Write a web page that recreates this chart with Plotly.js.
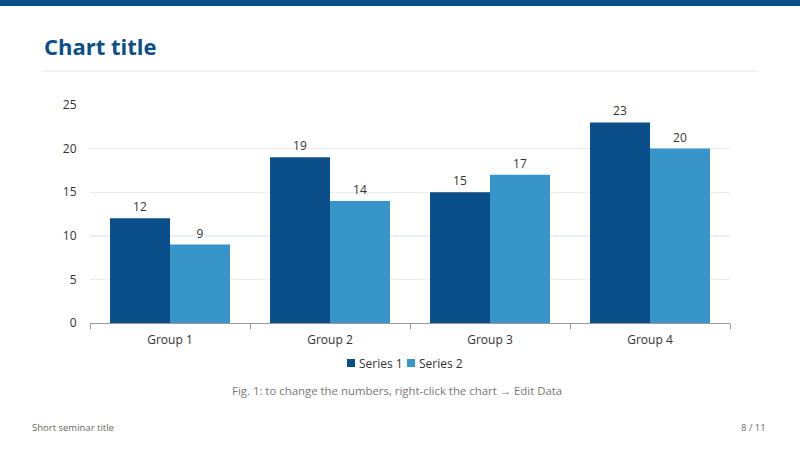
<!DOCTYPE html>
<html>
<head>
<meta charset="utf-8">
<script src="https://cdn.plot.ly/plotly-3.0.1.min.js"></script>
<style>
html,body{margin:0;padding:0;background:#fff;}
#chart{width:800px;height:450px;}
</style>
</head>
<body>
<div id="chart"></div>
<script>
const categories = ["Group 1", "Group 2", "Group 3", "Group 4"];
const series1 = [12, 19, 15, 23];
const series2 = [9, 14, 17, 20];
const seriesNames = ["Series 1", "Series 2"];
const chartTitle = "Chart title";
const caption = "Fig. 1: to change the numbers, right-click the chart \u2192 Edit Data";
const footerLeft = "Short seminar title";
const footerRight = "8 / 11";

const W = 800, H = 450;
const M = {l: 90, r: 70, t: 105, b: 127};
const plotH = H - M.t - M.b;
const plotW = W - M.l - M.r;
const py = p => (H - M.b - p) / plotH;   // pixel y -> paper y
const px = p => (p - M.l) / plotW;       // pixel x -> paper x

const dark = "#0b4f8a";
const light = "#3795c9";
const colors = [dark, light];
const font = "'Open Sans', 'Noto Sans', sans-serif";

const traces = [series1, series2].map((vals, i) => ({
  type: "bar", name: seriesNames[i], x: categories, y: vals,
  marker: {color: colors[i]}, text: vals.map(String), textposition: "outside",
  textfont: {size: 12, color: "#333"}, outsidetextfont: {size: 12, color: "#333"},
  cliponaxis: false, hoverinfo: "none", showlegend: false
}));

// manual legend (small square swatches, tight spacing like the reference)
const legendX = [347, 407];
const legendShapes = seriesNames.map((n, i) => ({
  type: "rect", xref: "paper", yref: "paper",
  x0: px(legendX[i]), x1: px(legendX[i] + 8), y0: py(359), y1: py(367),
  fillcolor: colors[i], line: {width: 0}
}));
const legendAnn = seriesNames.map((n, i) => ({
  text: n, xref: "paper", yref: "paper", x: px(legendX[i] + 10), y: py(363),
  xanchor: "left", yanchor: "middle", showarrow: false,
  font: {family: font, size: 12, color: "#333"}
}));

const layout = {
  width: W, height: H,
  margin: M,
  paper_bgcolor: "#fff", plot_bgcolor: "#fff",
  font: {family: font, size: 12, color: "#333"},
  barmode: "group", bargap: 0.25, bargroupgap: 0,
  showlegend: false,
  xaxis: {type: "category", showline: true, linecolor: "#9a9a9a", linewidth: 1,
          ticks: "outside", tickson: "boundaries", ticklen: 5, tickcolor: "#9a9a9a",
          ticklabelstandoff: 6,
          showgrid: false, tickfont: {size: 12, color: "#333"}},
  yaxis: {range: [0, 25], dtick: 5, showline: false, zeroline: false,
          showgrid: true, gridcolor: "#e8ebef", gridwidth: 1,
          ticks: "outside", ticklen: 10, tickcolor: "rgba(0,0,0,0)",
          tickfont: {size: 12, color: "#333"}},
  shapes: [
    {type: "rect", xref: "paper", yref: "paper", x0: px(0), x1: px(W), y0: py(0), y1: py(6),
     fillcolor: dark, line: {width: 0}, layer: "above"},
    {type: "line", xref: "paper", yref: "paper", x0: px(42), x1: px(758), y0: py(71), y1: py(71),
     line: {color: "#e3e3e3", width: 1}},
    {type: "line", xref: "paper", yref: "y", x0: 0, x1: 1, y0: 10, y1: 10,
     line: {color: "#d9e5f1", width: 1.5}, layer: "below"}
  ].concat(legendShapes),
  annotations: [
    {text: "<b>" + chartTitle + "</b>", xref: "paper", yref: "paper", x: px(42), y: py(46),
     xanchor: "left", yanchor: "middle", showarrow: false,
     font: {family: font, size: 22, color: dark}},
    {text: caption, xref: "paper", yref: "paper", x: px(397), y: py(390),
     xanchor: "center", yanchor: "middle", showarrow: false,
     font: {family: font, size: 11.4, color: "#777"}},
    {text: footerLeft, xref: "paper", yref: "paper", x: px(30), y: py(427),
     xanchor: "left", yanchor: "middle", showarrow: false,
     font: {family: font, size: 9.5, color: "#666"}},
    {text: footerRight, xref: "paper", yref: "paper", x: px(768), y: py(427),
     xanchor: "right", yanchor: "middle", showarrow: false,
     font: {family: font, size: 9.5, color: "#666"}}
  ].concat(legendAnn)
};

Plotly.newPlot("chart", traces, layout, {displayModeBar: false, staticPlot: true});
</script>
</body>
</html>
